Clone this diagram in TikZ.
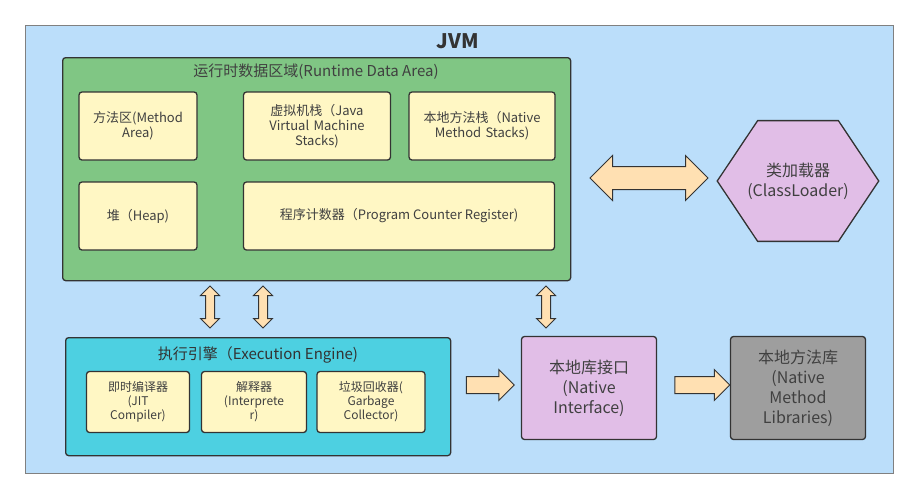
\documentclass[tikz,border=0pt]{standalone}
\usepackage{fontspec}
\setmainfont{Noto Sans CJK SC}
\usepackage{xcolor}
\usetikzlibrary{arrows.meta,positioning,shapes.geometric,shapes.arrows}
\definecolor{jvmbg}{HTML}{BBDEFA}
\definecolor{rtgreen}{HTML}{80C684}
\definecolor{memyellow}{HTML}{FFF7C4}
\definecolor{engcyan}{HTML}{4DD0E1}
\definecolor{nipurple}{HTML}{E1BEE7}
\definecolor{libgray}{HTML}{9E9E9E}
\definecolor{fatpeach}{HTML}{FFE0B2}
\definecolor{edge}{HTML}{333333}
\tikzset{
  box/.style={draw=edge, line width=1.3pt, rounded corners=3pt, align=center, inner sep=2pt},
  mem/.style={box, fill=memyellow, font=\fontsize{13}{15}\selectfont, text=black!75},
  sub/.style={box, fill=memyellow, font=\fontsize{12}{14}\selectfont, text=black!75},
  fat/.style={draw=edge, line width=1pt, fill=fatpeach, inner xsep=0pt, inner ysep=6pt, minimum width=0pt},
}
\begin{document}
\begin{tikzpicture}[x=1pt, y=-1pt]
    \useasboundingbox (0,0) rectangle (917,499);
    % outer jvm frame
    \node[draw=gray, line width=1.3pt, fill=jvmbg, minimum width=868pt, minimum height=448pt, anchor=north west] (jvm) at (25,25) {};
    \node[font=\fontsize{20}{22}\selectfont\bfseries, text=black!80] (jvmtitle) at (458,41) {JVM};

    % runtime data area
    \node[box, fill=rtgreen, minimum width=508pt, minimum height=223pt, anchor=north west] (rda) at (62,57) {};
    \node[font=\fontsize{15}{17}\selectfont, text=black!75] (rdatitle) at (316,72) {运行时数据区域(Runtime Data Area)};
    \node[mem, minimum width=118pt, minimum height=68pt, text width=110pt] (method) at (138,126) {方法区(Method\\Area)};
    \node[mem, minimum width=147pt, minimum height=68pt, text width=120pt] (vmstack) at (317,126) {虚拟机栈（Java\\Virtual Machine\\Stacks)};
    \node[mem, minimum width=146pt, minimum height=68pt, text width=140pt] (nmstack) at (482,126) {本地方法栈（Native\\Method Stacks)};
    \node[mem, minimum width=118pt, minimum height=68pt] (heap) at (138,216) {堆（Heap)};
    \node[mem, minimum width=311pt, minimum height=68pt] (pcr) at (399,216) {程序计数器（Program Counter Register)};

    % class loader
    \node[regular polygon, regular polygon sides=6, shape border rotate=0, draw=edge, line width=1.3pt, fill=nipurple,
          minimum size=170pt, xscale=0.95, yscale=0.82, inner sep=0pt] (loader) at (798,181) {};
    \node[font=\fontsize{16}{20}\selectfont, text=black!75, align=center] (loadertext) at (loader) {类加载器\\(ClassLoader)};
    \node[fat, double arrow, double arrow head extend=11pt, double arrow head indent=0pt, minimum height=118pt, inner ysep=11pt] (rdaloader) at (649,178) {};

    % execution engine
    \node[box, fill=engcyan, minimum width=385pt, minimum height=118pt, anchor=north west] (engine) at (65,337) {};
    \node[font=\fontsize{15}{17}\selectfont, text=black!80] (enginetitle) at (258,355) {执行引擎（Execution Engine)};
    \node[sub, minimum width=103pt, minimum height=61pt, text width=95pt] (jit) at (138,402) {即时编译器\\(JIT\\Compiler)};
    \node[sub, minimum width=105pt, minimum height=61pt, text width=72pt] (interp) at (254,402) {解释器\\(Interprete\\r)};
    \node[sub, minimum width=108pt, minimum height=61pt, text width=80pt] (gc) at (371,402) {垃圾回收器(\\Garbage\\Collector)};

    % native side
    \node[box, fill=nipurple, minimum width=135pt, minimum height=103pt, text width=100pt, font=\fontsize{16}{20}\selectfont, text=black!75] (native) at (589,388) {本地库接口\\(Native\\Interface)};
    \node[box, fill=libgray, minimum width=135pt, minimum height=103pt, text width=100pt, font=\fontsize{16}{20}\selectfont, text=black!75] (libs) at (798,388) {本地方法库\\(Native\\Method\\Libraries)};

    % fat connectors
    \foreach \x/\n in {210/a, 263/b, 546/c}
        \node[fat, double arrow, rotate=90, double arrow head extend=5pt, double arrow head indent=0pt, minimum height=42pt, inner ysep=4pt] (v\n) at (\x,307) {};
    \node[fat, single arrow, single arrow head extend=7pt, single arrow head indent=0pt, minimum height=48pt, inner ysep=8pt] (enginative) at (486,385) {};
    \node[fat, single arrow, single arrow head extend=7pt, single arrow head indent=0pt, minimum height=55pt, inner ysep=8pt] (nativelibs) at (698,385) {};
\end{tikzpicture}
\end{document}
